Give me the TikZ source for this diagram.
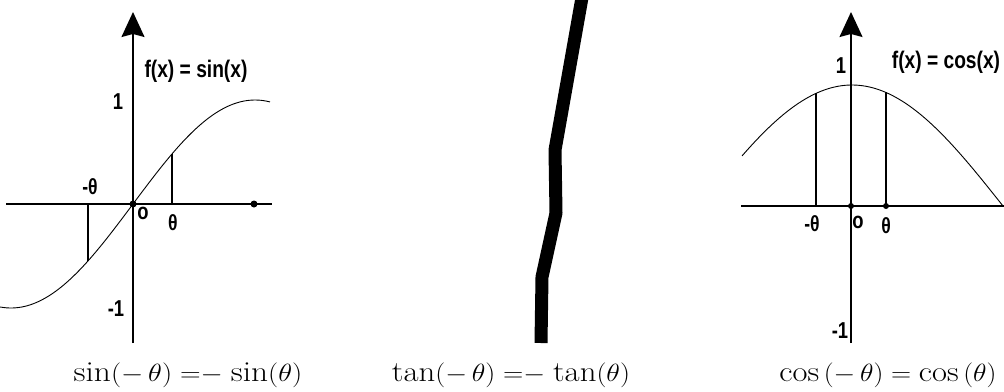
\documentclass[tikz,border=0pt]{standalone}
\usepackage{fontspec}
\newfontfamily\lab[FakeStretch=0.8]{Liberation Sans}
\usetikzlibrary{arrows.meta}
\tikzset{
  axisline/.style={line width=1.5pt, black},
  yaxisline/.style={axisline, -{Stealth[length=25pt,width=23pt,inset=3pt]}},
  curveline/.style={line width=0.9pt, black},
  tick/.style={line width=1.1pt, black},
  lbl/.style={font=\lab\bfseries\fontsize{23}{25}\selectfont, inner sep=0pt},
  thlbl/.style={font=\lab\bfseries\fontsize{22}{24}\selectfont, inner sep=0pt},
  title/.style={font=\lab\bfseries\fontsize{24}{26}\selectfont, inner sep=0pt},
  capt/.style={font=\fontsize{29}{32}\selectfont, inner sep=0pt, anchor=base},
  dotmark/.style={circle, fill=black, inner sep=0pt, minimum size=7pt},
  tanline/.style={line width=13pt, black, line join=round}
}
\begin{document}
\begin{tikzpicture}[x=1pt,y=-1pt]
\useasboundingbox (0,0) rectangle (1004,391);

% ---------- sine panel ----------
\coordinate (sxl) at (6,204);
\coordinate (sxr) at (272,204);
\coordinate (syb) at (133,343);
\coordinate (syt) at (133,12);
\draw[axisline] (sxl) -- (sxr);
\draw[yaxisline] (syb) -- (syt);
\draw[curveline] plot[smooth, samples=90, domain=0:270] (\x,{204-104*sin(((\x-133)/122)*90)});
\coordinate (sth) at (172,204);
\coordinate (sthc) at (172,{204-104*sin(((172-133)/122)*90)});
\coordinate (smth) at (88,204);
\coordinate (smthc) at (88,{204-104*sin(((88-133)/122)*90)});
\draw[tick] (sth) -- (sthc);
\draw[tick] (smth) -- (smthc);
\node[dotmark] (so) at (133,204) {};
\node[dotmark] (sp) at (254,204) {};
\node[title] (stitle) at (196,71) {f(x) = sin(x)};
\node[lbl] (s1) at (118,102) {1};
\node[lbl] (sm1) at (116,309) {-1};
\node[thlbl] (smt) at (90,187) {-θ};
\node[lbl] (so0) at (143,213) {o};
\node[thlbl] (st) at (173,223) {θ};
\node[capt] (scap) at (188,381) {\scalebox{1.15}[1]{$\sin(-\,\theta)\mathrel{=}\mathrel{-}\sin(\theta)$}};

% ---------- tangent panel ----------
\coordinate (t0) at (583,-8);
\coordinate (t1) at (555,150);
\coordinate (t2) at (556,213);
\coordinate (t3) at (542,277);
\coordinate (t4) at (541,343);
\draw[tanline] (t0) -- (t1) -- (t2) -- (t3) -- (t4);
\node[capt] (tcap) at (511,381) {\scalebox{1.13}[1]{$\tan(-\,\theta)\mathrel{=}\mathrel{-}\tan(\theta)$}};

% ---------- cosine panel ----------
\coordinate (cxl) at (741,206);
\coordinate (cxr) at (1004,206);
\coordinate (cyb) at (851,343);
\coordinate (cyt) at (851,12);
\draw[axisline] (cxl) -- (cxr);
\draw[yaxisline] (cyb) -- (cyt);
\draw[curveline] plot[smooth, samples=90, domain=742:1003] (\x,{206-121*cos(((\x-852)/151)*90)});
\coordinate (cth) at (886,206);
\coordinate (cthc) at (886,{206-121*cos(((886-852)/151)*90)});
\coordinate (cmth) at (816,206);
\coordinate (cmthc) at (816,{206-121*cos(((816-852)/151)*90)});
\draw[tick] (cth) -- (cthc);
\draw[tick] (cmth) -- (cmthc);
\node[dotmark, minimum size=6pt] (co) at (851,206) {};
\node[dotmark, minimum size=6pt] (cp) at (886,206) {};
\node[title] (ctitle) at (946,62) {f(x) = cos(x)};
\node[lbl] (c1) at (841,66) {1};
\node[lbl] (cm1) at (840,331) {-1};
\node[thlbl] (cmt) at (812,224) {-θ};
\node[lbl] (co0) at (858,222) {o};
\node[thlbl] (ct) at (886,226) {θ};
\node[capt] (ccap) at (888,381) {\scalebox{1.12}[1]{$\cos\,(-\,\theta) = \cos\,(\theta)$}};
\end{tikzpicture}
\end{document}
